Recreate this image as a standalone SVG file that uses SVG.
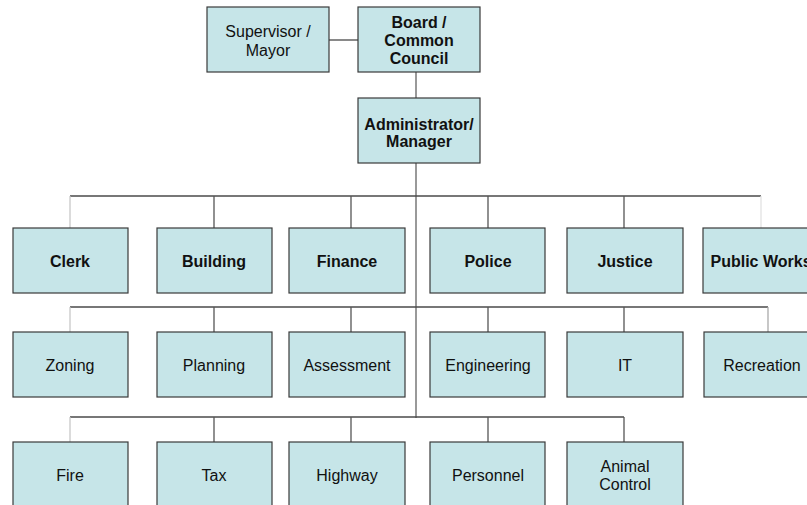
<svg xmlns="http://www.w3.org/2000/svg" width="807" height="505" viewBox="0 0 807 505">
<style>
.box{fill:#c6e5e8;stroke:#3a3a3a;stroke-width:1.2}
.t{font-family:"Liberation Sans",Arial,sans-serif;font-size:16px;fill:#111;text-anchor:middle}
.b{font-weight:bold}
.bus{stroke:#4a4a4a;stroke-width:1.3;fill:none}
.stub{stroke:#555;stroke-width:1.3;fill:none}
.lt{stroke:#c8c8c8;stroke-width:1.3;fill:none}
.vlt{stroke:#e2e2e2;stroke-width:1.3;fill:none}
.main{stroke:#999;stroke-width:2;fill:none}
</style>
<rect width="807" height="505" fill="#fff"/>
<g id="connectors">
<line class="bus" x1="329" y1="40" x2="358" y2="40"/>
<line class="main" x1="416" y1="72" x2="416" y2="98"/>
<line class="main" x1="416" y1="163" x2="416" y2="418"/>
<line class="bus" x1="70" y1="196" x2="761" y2="196"/>
<line class="lt" x1="70" y1="196" x2="70" y2="228"/>
<line class="stub" x1="214" y1="196" x2="214" y2="228"/>
<line class="stub" x1="351" y1="196" x2="351" y2="228"/>
<line class="stub" x1="488" y1="196" x2="488" y2="228"/>
<line class="stub" x1="624" y1="196" x2="624" y2="228"/>
<line class="vlt" x1="761" y1="196" x2="761" y2="228"/>
<line class="bus" x1="70" y1="307" x2="768" y2="307"/>
<line class="lt" x1="70" y1="307" x2="70" y2="332"/>
<line class="stub" x1="214" y1="307" x2="214" y2="332"/>
<line class="stub" x1="351" y1="307" x2="351" y2="332"/>
<line class="stub" x1="488" y1="307" x2="488" y2="332"/>
<line class="stub" x1="624" y1="307" x2="624" y2="332"/>
<line class="lt" x1="768" y1="307" x2="768" y2="332" style="stroke:#aaa"/>
<line class="bus" x1="70" y1="417" x2="624" y2="417"/>
<line class="lt" x1="70" y1="417" x2="70" y2="442"/>
<line class="stub" x1="214" y1="417" x2="214" y2="442"/>
<line class="stub" x1="351" y1="417" x2="351" y2="442"/>
<line class="stub" x1="488" y1="417" x2="488" y2="442"/>
<line class="stub" x1="624" y1="417" x2="624" y2="442"/>
</g>
<g id="supervisor"><rect class="box" x="207" y="7" width="122" height="65"/><text class="t" x="268" y="37">Supervisor /</text><text class="t" x="268" y="56">Mayor</text></g>
<g id="board"><rect class="box" x="358" y="7" width="122" height="65"/><text class="t b" x="419" y="28">Board /</text><text class="t b" x="419" y="46">Common</text><text class="t b" x="419" y="64">Council</text></g>
<g id="admin"><rect class="box" x="358" y="98" width="122" height="65"/><text class="t b" x="419" y="130">Administrator/</text><text class="t b" x="419" y="147">Manager</text></g>
<g id="clerk"><rect class="box" x="13" y="228" width="115" height="65"/><text class="t b" x="70" y="267">Clerk</text></g>
<g id="building"><rect class="box" x="157" y="228" width="115" height="65"/><text class="t b" x="214" y="267">Building</text></g>
<g id="finance"><rect class="box" x="289" y="228" width="116" height="65"/><text class="t b" x="347" y="267">Finance</text></g>
<g id="police"><rect class="box" x="430" y="228" width="115" height="65"/><text class="t b" x="488" y="267">Police</text></g>
<g id="justice"><rect class="box" x="567" y="228" width="116" height="65"/><text class="t b" x="625" y="267">Justice</text></g>
<g id="publicworks"><rect class="box" x="703" y="228" width="116" height="65"/><text class="t b" x="761" y="267">Public Works</text></g>
<g id="zoning"><rect class="box" x="13" y="332" width="115" height="65"/><text class="t" x="70" y="371">Zoning</text></g>
<g id="planning"><rect class="box" x="157" y="332" width="115" height="65"/><text class="t" x="214" y="371">Planning</text></g>
<g id="assessment"><rect class="box" x="289" y="332" width="116" height="65"/><text class="t" x="347" y="371">Assessment</text></g>
<g id="engineering"><rect class="box" x="430" y="332" width="115" height="65"/><text class="t" x="488" y="371">Engineering</text></g>
<g id="it"><rect class="box" x="567" y="332" width="116" height="65"/><text class="t" x="625" y="371">IT</text></g>
<g id="recreation"><rect class="box" x="704" y="332" width="116" height="65"/><text class="t" x="762" y="371">Recreation</text></g>
<g id="fire"><rect class="box" x="13" y="442" width="115" height="70"/><text class="t" x="70" y="481">Fire</text></g>
<g id="tax"><rect class="box" x="157" y="442" width="115" height="70"/><text class="t" x="214" y="481">Tax</text></g>
<g id="highway"><rect class="box" x="289" y="442" width="116" height="70"/><text class="t" x="347" y="481">Highway</text></g>
<g id="personnel"><rect class="box" x="430" y="442" width="115" height="70"/><text class="t" x="488" y="481">Personnel</text></g>
<g id="animalcontrol"><rect class="box" x="567" y="442" width="116" height="70"/><text class="t" x="625" y="472">Animal</text><text class="t" x="625" y="490">Control</text></g>
</svg>
